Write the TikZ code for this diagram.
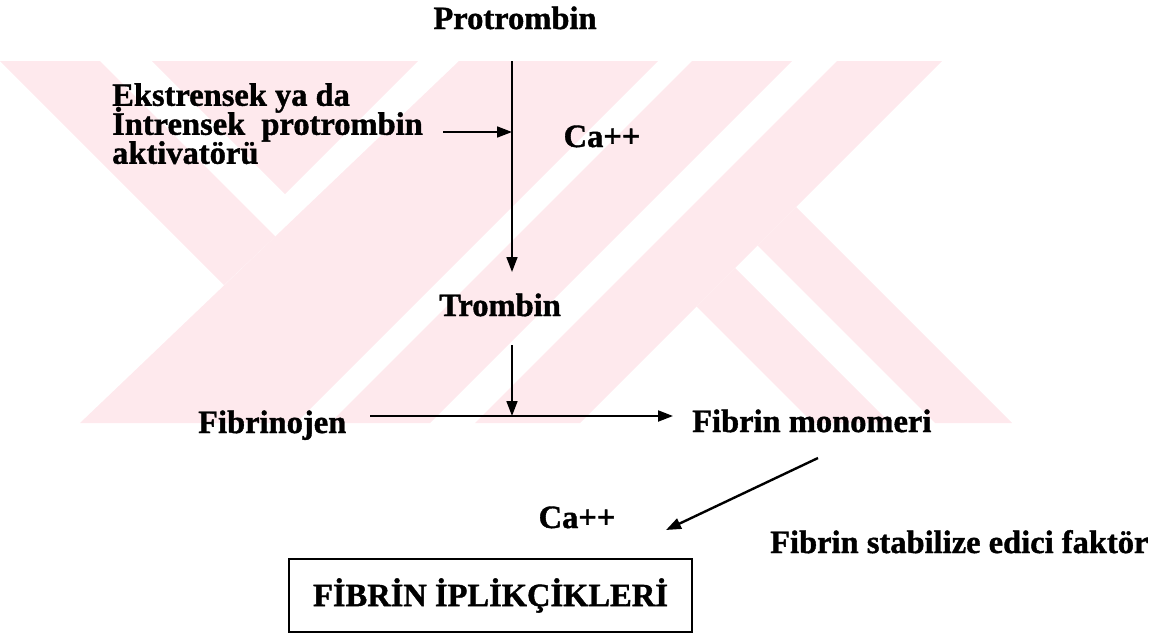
\documentclass[tikz,border=0pt]{standalone}
\usepackage{fontspec}
\setmainfont{Liberation Serif}
\newfontfamily\scanfont{Liberation Serif Bold}[FakeBold=1.2]
\usetikzlibrary{arrows.meta,positioning}
\definecolor{wmark}{RGB}{254,233,237}
\newcommand\lblfont{\fontsize{32.5}{29}\selectfont\scanfont\lineskiplimit=-100pt\relax}
\tikzset{
	lbl/.style={font=\lblfont,inner sep=0pt,anchor=base},
	result/.style={draw,line width=1.8pt,font=\lblfont,
		inner sep=0pt,minimum width=403pt,minimum height=73pt},
	flow/.style={line width=1.7pt,-{Triangle[length=15pt,width=11pt]}},
	wm/.style={fill=wmark,draw=none}
}
\begin{document}
\begin{tikzpicture}[x=1pt,y=-1pt]
\useasboundingbox (0,0) rectangle (1159,635);

% watermark
\fill[wm] (0,61) -- (100,61) -- (275.4,236.4) -- (224,285) -- cycle;
\fill[wm] (152,61) -- (418,61) -- (285,194) -- cycle;
\fill[wm] (459,61) -- (658,61) -- (296,423) -- (80,423) -- cycle;
\fill[wm] (692,61) -- (792,61) -- (430,423) -- (330,423) -- cycle;
\fill[wm] (837,61) -- (942,61) -- (580,423) -- (475,423) -- cycle;
\fill[wm] (796,207) -- (1012,423) -- (935,423) -- (757.5,245.5) -- cycle;
\fill[wm] (735,268) -- (890,423) -- (813,423) -- (696.5,306.5) -- cycle;

\node[lbl] (protr) at (515,29) {Protrombin};
\node[lbl,align=left,anchor=north west] (activ) at (112,83)
	{Ekstrensek ya da\\İntrensek\ \ protrombin\\aktivatörü};
\node[lbl] (caup) at (602,147) {Ca++};
\node[lbl] (tromb) at (500,316) {Trombin};
\node[lbl,anchor=base west] (fgen) at (198,433) {Fibrinojen};
\node[lbl,anchor=base west] (fmono) at (692,432) {Fibrin monomeri};
\node[lbl] (calow) at (577,528) {Ca++};
\node[lbl,anchor=base west] (fsf) at (770,553) {Fibrin stabilize edici faktör};
\node[result] (fibres) at (490.5,595.5) {FİBRİN İPLİKÇİKLERİ};

\coordinate (ptop) at (512,61);
\coordinate (pjoin) at (512,132);
\coordinate (pbot) at (512,272);
\coordinate (acttail) at (443,132);
\coordinate (ttop) at (512,345);
\coordinate (fjoin) at (512,416);
\coordinate (ftail) at (370,416);
\coordinate (fhead) at (673,416);
\coordinate (dtail) at (818,458);
\coordinate (dhead) at (666,530);

\draw[flow] (ptop) -- (pbot);
\draw[flow] (acttail) -- (pjoin);
\draw[flow] (ttop) -- (fjoin);
\draw[flow,line width=2pt] (ftail) -- (fhead);
\draw[flow,line width=2.4pt] (dtail) -- (dhead);

\end{tikzpicture}
\end{document}
